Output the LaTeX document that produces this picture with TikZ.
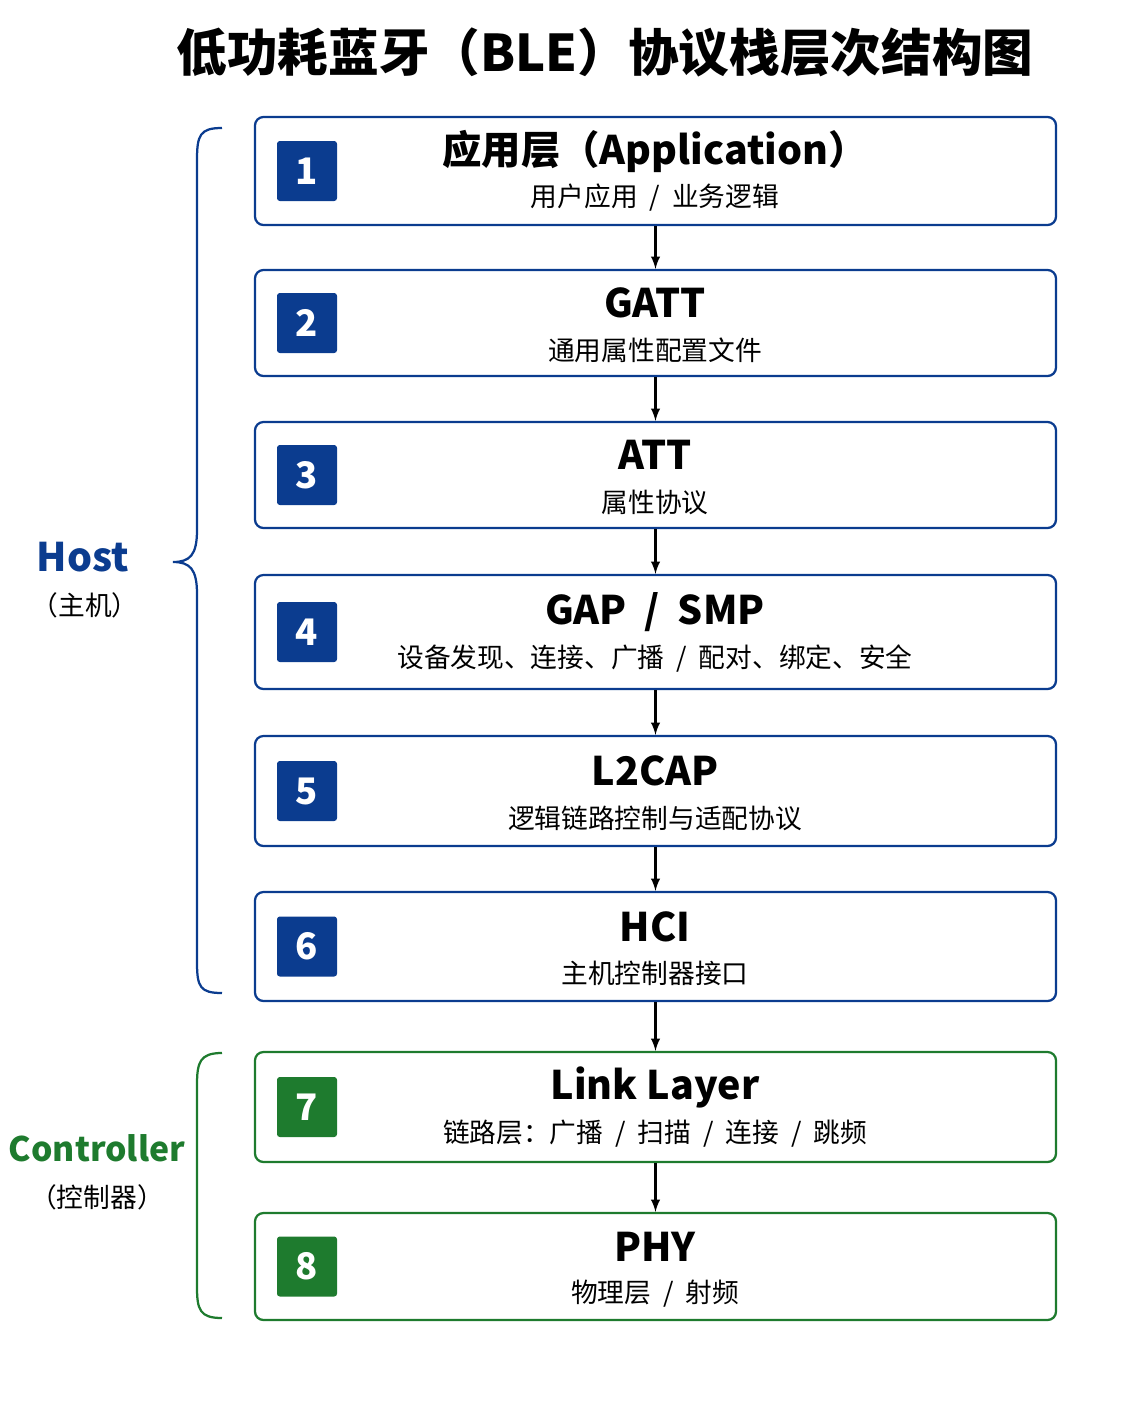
\documentclass[tikz,border=0pt]{standalone}
\usepackage{fontspec}
\setmainfont{Noto Sans CJK SC}
\usetikzlibrary{positioning}
\definecolor{hostblue}{HTML}{0B3C8F}
\definecolor{ctrlgreen}{HTML}{1E7B2E}
\newcommand\slsh{\ \ /\ \ }
\begin{document}
\begin{tikzpicture}[x=0.025cm,y=-0.025cm,
    layer/.style={draw,rounded corners=6pt,line width=1.6pt,minimum width=801*0.025cm,inner sep=0pt},
    badge/.style={rounded corners=2pt,minimum size=60*0.025cm,inner sep=0pt,text=white,font=\fontsize{26}{26}\selectfont\bfseries},
    ltitle/.style={font=\fontsize{28}{28}\selectfont\bfseries},
    lsub/.style={font=\fontsize{19}{20}\selectfont},
    flow/.style={-latex,line width=2pt}
    ]
    \useasboundingbox (0,0) rectangle (1122,1402);

    \node (title) at (605,52) {\fontsize{36}{36}\selectfont\bfseries 低功耗蓝牙（BLE）协议栈层次结构图};

    % layers: index / top / bottom / colour / title / subtitle
    \foreach \i/\t/\b/\c/\name/\sub in {
        1/117/225/hostblue/应用层（Application）/用户应用\slsh 业务逻辑,
        2/270/376/hostblue/GATT/通用属性配置文件,
        3/422/528/hostblue/ATT/属性协议,
        4/575/689/hostblue/GAP\slsh SMP/设备发现、连接、广播\slsh 配对、绑定、安全,
        5/736/846/hostblue/L2CAP/逻辑链路控制与适配协议,
        6/892/1001/hostblue/HCI/主机控制器接口,
        7/1052/1162/ctrlgreen/Link Layer/链路层：广播\slsh 扫描\slsh 连接\slsh 跳频,
        8/1213/1320/ctrlgreen/PHY/物理层\slsh 射频}
      {\node (l\i) [layer,draw=\c,minimum height={(\b-\t)*0.025cm}] at (655.5,{(\t+\b)/2}) {};
       \node (b\i) [badge,fill=\c] at (307,{(\t+\b)/2}) {\i};
       \node (t\i) [ltitle] at (655,{(\t+\b)/2-20}) {\name};
       \node (s\i) [lsub] at (655,{(\t+\b)/2+27}) {\sub};
      }

    \foreach \i [count=\j from 2] in {1,...,7}
      \draw[flow] (l\i) -- (l\j);

    % side groups
    \node (host) [text=hostblue,font=\fontsize{28}{28}\selectfont\bfseries] at (83,557) {Host};
    \node (hostcn) [font=\fontsize{19}{20}\selectfont] at (85,605) {（主机）};
    \node (ctrl) [text=ctrlgreen,font=\fontsize{24}{24}\selectfont\bfseries] at (97,1148) {Controller};
    \node (ctrlcn) [font=\fontsize{19}{20}\selectfont] at (97,1197) {（控制器）};

    \draw[hostblue,line width=1.6pt] (222,128) .. controls (200,128) and (197,135) .. (197,160)
      -- (197,530) .. controls (197,555) and (190,562) .. (173,562)
      .. controls (190,562) and (197,569) .. (197,594) -- (197,962)
      .. controls (197,987) and (200,993) .. (222,993);
    \draw[ctrlgreen,line width=1.6pt] (222,1053) .. controls (200,1053) and (197,1062) .. (197,1085)
      -- (197,1287) .. controls (197,1310) and (200,1318) .. (222,1318);
\end{tikzpicture}
\end{document}
